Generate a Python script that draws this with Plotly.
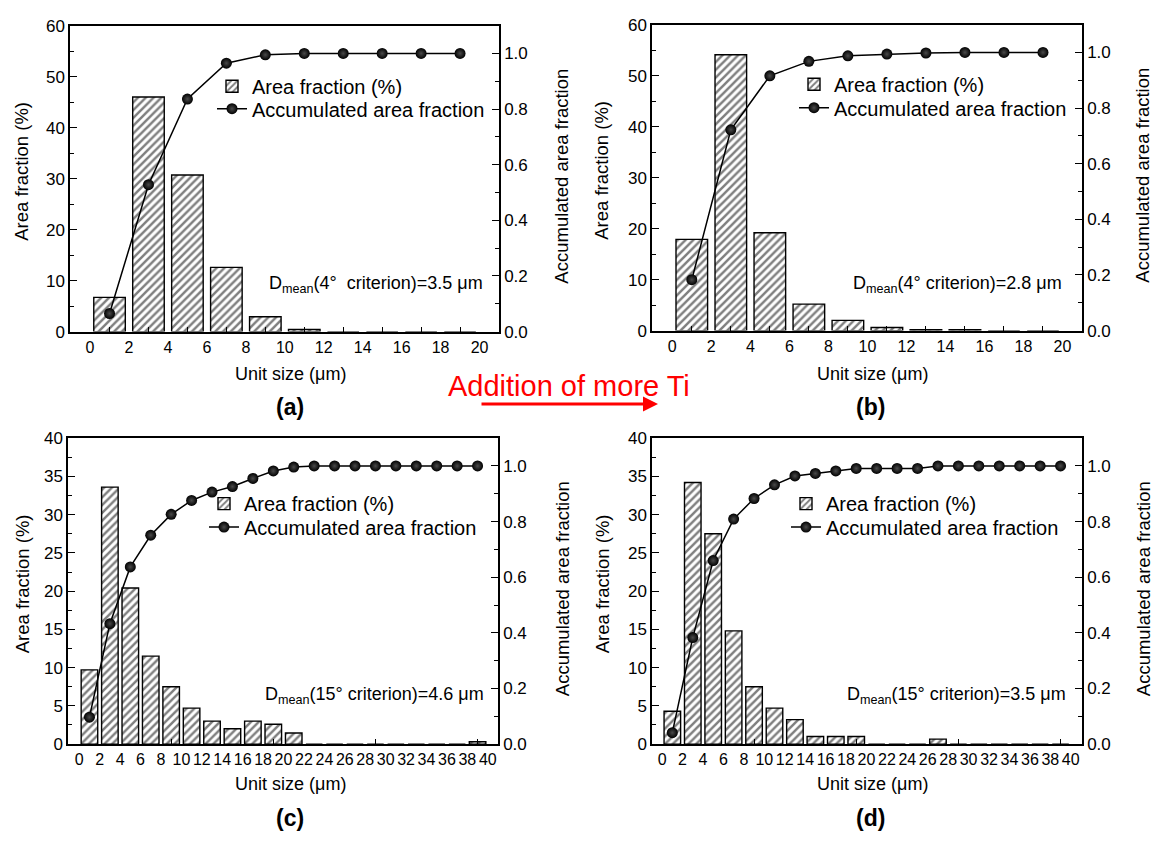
import plotly.graph_objects as go

W, H = 1155, 846

# ---------------- data ----------------
centers_ab = [1, 3, 5, 7, 9, 11, 13, 15, 17, 19]
centers_cd = [1, 3, 5, 7, 9, 11, 13, 15, 17, 19, 21, 23, 25, 27, 29, 31, 33, 35, 37, 39]
xlabels_ab = [0, 2, 4, 6, 8, 10, 12, 14, 16, 18, 20]
xlabels_cd = [0, 2, 4, 6, 8, 10, 12, 14, 16, 18, 20, 22, 24, 26, 28, 30, 32, 34, 36, 38, 40]
xticks_ab = [1, 3, 5, 7, 9, 11, 13, 15, 17, 19]
xticks_cd = [9, 19, 29, 39]

area_a = [6.7, 46.0, 30.7, 12.6, 2.9, 0.4, 0, 0, 0, 0]
cum_a = [0.065, 0.528, 0.836, 0.965, 0.995, 1.0, 1.0, 1.0, 1.0, 1.0]

area_b = [17.9, 54.1, 19.2, 5.2, 2.0, 0.6, 0.2, 0.2, 0, 0]
cum_b = [0.183, 0.722, 0.916, 0.968, 0.988, 0.994, 0.998, 1.0, 1.0, 1.0]

area_c = [9.7, 33.6, 20.4, 11.5, 7.5, 4.7, 3.0, 2.0, 3.0, 2.6, 1.45, 0, 0, 0, 0, 0, 0, 0, 0, 0.3]
cum_c = [0.097, 0.433, 0.637, 0.751, 0.826, 0.876, 0.906, 0.926, 0.955, 0.982, 0.996,
         1.0, 1.0, 1.0, 1.0, 1.0, 1.0, 1.0, 1.0, 1.0]

area_d = [4.3, 34.2, 27.5, 14.8, 7.5, 4.7, 3.2, 1.0, 1.0, 1.0, 0, 0, 0, 0.65, 0, 0, 0, 0, 0, 0]
cum_d = [0.041, 0.383, 0.66, 0.809, 0.883, 0.932, 0.964, 0.973, 0.982, 0.991, 0.991, 0.991,
         0.991, 1.0, 1.0, 1.0, 1.0, 1.0, 1.0, 1.0]

dmean_texts = [
    "D<sub>mean</sub>(4°  criterion)=3.5 μm",
    "D<sub>mean</sub>(4° criterion)=2.8 μm",
    "D<sub>mean</sub>(15° criterion)=4.6 μm",
    "D<sub>mean</sub>(15° criterion)=3.5 μm",
]
panel_labels = ["(a)", "(b)", "(c)", "(d)"]

FONT = "Arial, Liberation Sans, sans-serif"

panels = [
    dict(c=centers_ab, area=area_a, cum=cum_a, xl=xlabels_ab, xt=xticks_ab, xr=[-1.03, 21.0],
         ymax=60, dt=10, mt=5, px=(70, 499), py=(17, 330), leg=(212, 79, 102), dm=(485, 282),
         lt=22, rt=562, ut=(291, 373), pl=(290, 407)),
    dict(c=centers_ab, area=area_b, cum=cum_b, xl=xlabels_ab, xt=xticks_ab, xr=[-1.04, 21.0],
         ymax=60, dt=10, mt=5, px=(652, 1082), py=(16, 329), leg=(794, 77, 101), dm=(1064, 282),
         lt=602, rt=1143, ut=(872, 373), pl=(870, 407)),
    dict(c=centers_cd, area=area_c, cum=cum_c, xl=xlabels_cd, xt=xticks_cd, xr=[-1.1, 41.0],
         ymax=40, dt=5, mt=2.5, px=(68, 498), py=(439, 752), leg=(204, 506, 530), dm=(486, 702),
         lt=22, rt=562, ut=(290, 793), pl=(290, 828)),
    dict(c=centers_cd, area=area_d, cum=cum_d, xl=xlabels_cd, xt=xticks_cd, xr=[-0.99, 41.1],
         ymax=40, dt=5, mt=2.5, px=(652, 1082), py=(439, 752), leg=(786, 506, 530), dm=(1068, 702),
         lt=602, rt=1143, ut=(872, 793), pl=(870, 828)),
]


def fx(p):
    return p / W


def fy(p):
    return 1 - p / H


fig = go.Figure()
layout = dict(
    width=W, height=H, margin=dict(l=0, r=0, t=0, b=0),
    paper_bgcolor="white", plot_bgcolor="white",
    font=dict(family=FONT, size=16, color="black"),
    showlegend=True,
)
annotations = []

for i, p in enumerate(panels):
    xa = "x" if i == 0 else f"x{i + 1}"
    ya = "y" if i == 0 else f"y{2 * i + 1}"
    yb = f"y{2 * i + 2}"
    legA = "legend" if i == 0 else f"legend{2 * i + 1}"
    legB = f"legend{2 * i + 2}"

    fig.add_trace(go.Bar(
        x=p["c"], y=p["area"], width=1.62, xaxis=xa, yaxis=ya,
        name="Area fraction (%)", legend=legA,
        marker=dict(color="white", line=dict(color="black", width=1.4),
                    pattern=dict(shape="/", fgcolor="black", bgcolor="white", size=5.5, solidity=0.45)),
    ))
    fig.add_trace(go.Scatter(
        x=p["c"], y=p["cum"], xaxis=xa, yaxis=yb, mode="lines+markers",
        name="Accumulated area fraction", legend=legB,
        line=dict(color="black", width=1.5),
        marker=dict(symbol="circle", size=11, color="black",
                    gradient=dict(type="radial", color="#4a4a4a"),
                    line=dict(width=0)),
    ))

    xk = "xaxis" if i == 0 else f"xaxis{i + 1}"
    yk1 = "yaxis" if i == 0 else f"yaxis{2 * i + 1}"
    yk2 = f"yaxis{2 * i + 2}"
    layout[xk] = dict(
        domain=[fx(p["px"][0]), fx(p["px"][1])], anchor=ya, range=p["xr"],
        tickmode="array", tickvals=p["xl"], ticktext=[str(v) for v in p["xl"]],
        ticks="", tickangle=0, showline=True, linecolor="black", linewidth=1.5, mirror=True,
        showgrid=False, zeroline=False, tickfont=dict(size=16),
        minor=dict(tickmode="array", tickvals=p["xt"], ticks="inside", ticklen=5,
                   tickcolor="black", tickwidth=1.3, showgrid=False),
    )
    layout[yk1] = dict(
        domain=[fy(p["py"][1]), fy(p["py"][0])], anchor=xa, range=[0, p["ymax"]],
        dtick=p["dt"], tick0=0, ticks="inside", ticklen=7, tickwidth=1.3, tickcolor="black",
        showline=True, linecolor="black", linewidth=1.5, showgrid=False, zeroline=False,
        tickfont=dict(size=17),
        minor=dict(dtick=p["mt"], tick0=0, ticks="inside", ticklen=4, tickcolor="black",
                   tickwidth=1.3, showgrid=False),
    )
    layout[yk2] = dict(
        overlaying=ya, anchor=xa, side="right", range=[0, 1.1], dtick=0.2, tick0=0,
        tickformat=".1f", ticks="inside", ticklen=7, tickwidth=1.3, tickcolor="black",
        showline=True, linecolor="black", linewidth=1.5, showgrid=False, zeroline=False,
        tickfont=dict(size=17),
        minor=dict(dtick=0.1, tick0=0, ticks="inside", ticklen=4, tickcolor="black",
                   tickwidth=1.3, showgrid=False),
    )
    for lk, ly in ((legA, p["leg"][1]), (legB, p["leg"][2])):
        layout[lk] = dict(
            x=fx(p["leg"][0]), y=fy(ly), xanchor="left", yanchor="middle",
            bgcolor="rgba(0,0,0,0)", borderwidth=0, font=dict(size=20, family=FONT),
            tracegroupgap=0, itemwidth=30,
        )

    ymid = (p["py"][0] + p["py"][1]) / 2
    annotations += [
        dict(text=dmean_texts[i], x=fx(p["dm"][0]), y=fy(p["dm"][1]), xref="paper", yref="paper",
             xanchor="right", yanchor="middle", showarrow=False, font=dict(size=18)),
        dict(text="Area fraction (%)", x=fx(p["lt"]), y=fy(ymid - 7), xref="paper", yref="paper",
             textangle=-90, showarrow=False, font=dict(size=18.5), xanchor="center", yanchor="middle"),
        dict(text="Accumulated area fraction", x=fx(p["rt"]), y=fy(ymid - 2), xref="paper", yref="paper",
             textangle=-90, showarrow=False, font=dict(size=18.5), xanchor="center", yanchor="middle"),
        dict(text="Unit size (μm)", x=fx(p["ut"][0]), y=fy(p["ut"][1]), xref="paper", yref="paper",
             showarrow=False, font=dict(size=18), xanchor="center", yanchor="middle"),
        dict(text="<b>" + panel_labels[i] + "</b>", x=fx(p["pl"][0]), y=fy(p["pl"][1]),
             xref="paper", yref="paper", showarrow=False, font=dict(size=23),
             xanchor="center", yanchor="middle"),
    ]

annotations += [
    dict(text="Addition of more Ti", x=fx(569), y=fy(386), xref="paper", yref="paper",
         showarrow=False, font=dict(size=29, color="red"), xanchor="center", yanchor="middle"),
    dict(text="", x=fx(658), y=fy(404), xref="paper", yref="paper", ax=-178, ay=0,
         showarrow=True, arrowhead=2, arrowsize=1, arrowwidth=3, arrowcolor="red"),
]
layout["annotations"] = annotations

fig.update_layout(**layout)
fig.write_html("out.html")
